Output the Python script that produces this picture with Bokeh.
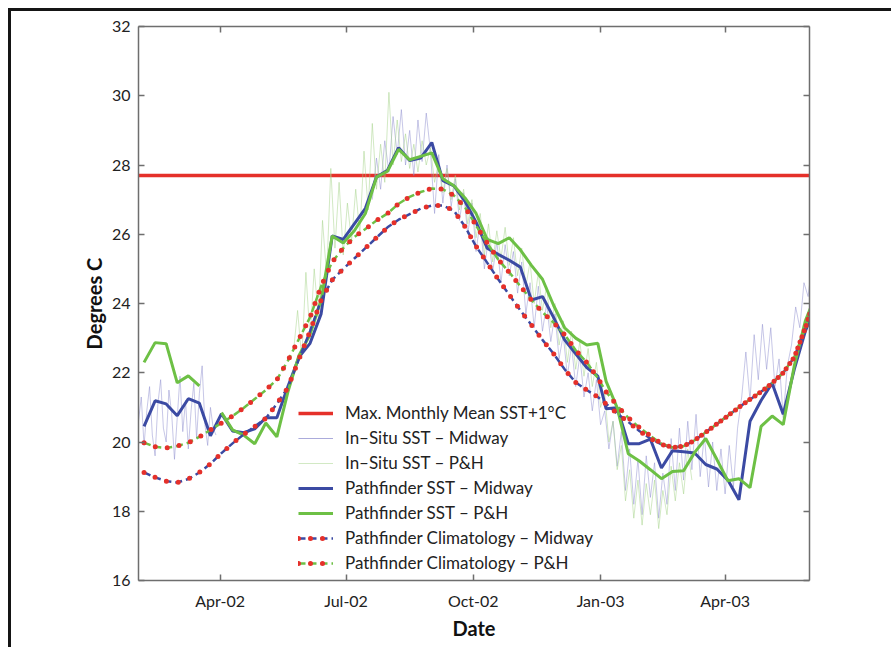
from datetime import datetime
import numpy as np
import pandas as pd
from bokeh.plotting import figure
from bokeh.models import (Range1d, FixedTicker, DatetimeTickFormatter, DatetimeAxis, LinearAxis,
                          Legend, LegendItem, CustomJSTickFormatter, InlineStyleSheet)
from bokeh.embed import file_html
from bokeh.resources import INLINE

# ---------------- data ----------------
pf_dates = ["2002-02-05","2002-02-13","2002-02-21","2002-03-01","2002-03-09","2002-03-17","2002-03-25",
            "2002-04-02","2002-04-10","2002-04-18","2002-04-26","2002-05-04","2002-05-12","2002-05-20",
            "2002-05-28","2002-06-05","2002-06-13","2002-06-21","2002-06-29","2002-07-07","2002-07-15",
            "2002-07-23","2002-07-31","2002-08-08","2002-08-16","2002-08-24","2002-09-01","2002-09-09",
            "2002-09-17","2002-09-25","2002-10-03","2002-10-11","2002-10-19","2002-10-27","2002-11-04",
            "2002-11-12","2002-11-20","2002-11-28","2002-12-06","2002-12-14","2002-12-22","2002-12-30",
            "2003-01-05","2003-01-13","2003-01-21","2003-01-29","2003-02-06","2003-02-14","2003-02-22",
            "2003-03-02","2003-03-10","2003-03-18","2003-03-26","2003-04-03","2003-04-11","2003-04-19",
            "2003-04-27","2003-05-05","2003-05-13","2003-05-21","2003-05-29","2003-06-06"]

pathfinder_midway = [20.45, 21.19, 21.10, 20.76, 21.25, 21.12, 20.18, 20.82, 20.32, 20.27,
                     20.38, 20.70, 20.70, 21.60, 22.45, 22.85, 23.70, 25.95, 25.85, 26.30,
                     26.75, 27.65, 27.85, 28.50, 28.13, 28.20, 28.65, 27.55, 27.40, 26.95,
                     26.35, 25.60, 25.42, 25.25, 25.05, 24.10, 24.20, 23.60, 22.95, 22.55,
                     22.15, 21.90, 20.96, 20.99, 19.95, 19.95, 20.08, 19.25, 19.75, 19.72,
                     19.68, 19.35, 19.22, 18.90, 18.33, 20.60, 21.20, 21.70, 20.80, 22.10,
                     23.20, 24.00]

pathfinder_ph = [22.30, 22.87, 22.84, 21.71, 21.91, 21.62, np.nan, 20.85, 20.35, 20.20,
                 19.95, 20.55, 20.15, 21.45, 22.50, 23.10, 24.10, 25.95, 25.75, 26.10,
                 26.60, 27.65, 27.82, 28.45, 28.15, 28.25, 28.35, 27.60, 27.40, 27.05,
                 26.60, 25.85, 25.73, 25.90, 25.55, 25.10, 24.70, 23.95, 23.30, 23.00,
                 22.80, 22.85, 21.75, 20.99, 19.66, 19.45, 19.20, 18.94, 19.15, 19.17,
                 19.70, 20.10, 19.50, 18.88, 18.94, 18.68, 20.45, 20.75, 20.50, 22.20,
                 23.50, 24.30]

clim_midway = [19.12, 18.98, 18.87, 18.83, 18.93, 19.12, 19.37, 19.68, 19.96, 20.22,
               20.45, 20.68, 21.10, 21.57, 22.40, 23.20, 24.10, 24.68, 25.00, 25.30,
               25.60, 25.90, 26.20, 26.42, 26.58, 26.74, 26.83, 26.83, 26.68, 26.22,
               25.65, 25.18, 24.70, 24.25, 23.80, 23.38, 22.95, 22.55, 22.10, 21.72,
               21.50, 21.30, 21.10, 20.82, 20.58, 20.32, 20.10, 19.93, 19.84, 19.88,
               20.05, 20.28, 20.52, 20.76, 21.00, 21.23, 21.45, 21.70, 22.00, 22.45,
               23.30, 24.30]

clim_ph = [19.98, 19.86, 19.83, 19.88, 19.98, 20.15, 20.35, 20.55, 20.75, 20.98,
           21.24, 21.50, 21.80, 22.35, 22.98, 23.60, 24.50, 25.20, 25.60, 25.92,
           26.15, 26.40, 26.60, 26.88, 27.08, 27.22, 27.32, 27.30, 27.12, 26.78,
           26.25, 25.75, 25.27, 24.90, 24.50, 24.10, 23.75, 23.45, 23.10, 22.65,
           22.30, 21.85, 21.45, 21.05, 20.70, 20.42, 20.18, 19.95, 19.84, 19.88,
           20.05, 20.28, 20.52, 20.76, 21.00, 21.23, 21.45, 21.70, 22.00, 22.45,
           23.30, 24.30]

# in-situ records (read at a 2- or 3-day spacing)
insitu_midway_a_start = "2002-02-01"
insitu_midway_a = [20.6, 21.3, 19.9, 20.9, 21.6, 20.2, 19.6, 21.1, 21.8, 20.4, 20.0, 21.5, 20.8, 19.5,
                   20.7, 21.9, 20.3, 21.2, 19.8, 20.9, 21.7, 20.1, 21.4, 22.2, 20.5, 19.9, 21.0, 20.4, 20.2]
insitu_midway_b_start = "2002-07-20"
insitu_midway_b = [27.0, 28.2, 27.3, 28.7, 27.8, 29.4, 28.3, 29.6, 28.0, 29.0,
                   27.7, 29.3, 28.1, 29.5, 28.4, 26.6, 28.3, 26.9, 28.0, 26.8,
                   27.6, 26.4, 27.2, 26.0, 26.9, 25.5, 26.4, 25.0, 25.9, 24.9,
                   25.8, 24.6, 25.7, 24.8, 25.5, 24.3, 25.2, 23.7, 24.6, 23.3,
                   24.5, 23.2, 24.0, 22.9, 23.7, 22.4, 23.1, 21.9, 22.8, 21.6,
                   22.5, 21.3, 22.0, 20.9, 21.8, 20.5, 20.9, 19.8, 20.6, 19.3,
                   20.3, 18.6, 19.8, 18.2, 19.5, 17.9, 19.6, 18.4, 19.4, 17.8,
                   19.1, 18.2, 20.1, 18.6, 20.4, 18.9, 20.6, 19.2, 20.8, 19.0,
                   20.2, 18.7, 20.0, 18.6, 19.8, 18.5, 19.9, 18.7, 20.4, 21.3,
                   22.6, 21.2, 23.1, 21.8, 23.4, 22.1, 23.3, 21.6, 22.4, 20.7,
                   22.2, 22.8, 23.9, 23.3, 24.6, 24.2, 25.2]
insitu_ph_start = "2002-05-24"
insitu_ph = [22.6, 23.8, 22.4, 24.9, 23.0, 25.0, 23.6, 26.4, 24.8, 27.9,
             25.6, 27.5, 25.4, 26.9, 25.8, 27.3, 26.0, 28.4, 26.7, 29.2,
             27.3, 28.6, 27.5, 30.1, 28.0, 29.3, 28.1, 28.9, 27.9, 28.6,
             27.8, 28.7, 28.0, 28.5, 27.5, 28.1, 27.2, 27.9, 27.0, 27.7,
             26.7, 27.3, 26.3, 27.0, 25.9, 26.6, 25.4, 26.3, 25.2, 26.1,
             25.3, 26.2, 25.1, 25.9, 24.8, 25.6, 24.5, 25.2, 24.0, 24.9,
             23.8, 24.5, 23.3, 24.0, 22.8, 23.5, 22.3, 23.2, 22.1, 22.9,
             21.9, 22.7, 21.6, 22.3, 21.0, 21.4, 20.0, 20.6, 19.2, 19.9,
             18.3, 19.2, 17.8, 18.9, 17.6, 18.8, 17.9, 18.9, 17.5, 18.6,
             17.9, 19.3, 18.3, 19.4, 18.5, 19.8, 18.9]

max_monthly_mean_plus1 = 27.7
threshold_span = ["2002-02-01", "2003-06-01"]

y_ticks = [16, 18, 20, 22, 24, 26, 28, 30, 32]
x_tick_dates = ["2002-04-01", "2002-07-01", "2002-10-01", "2003-01-01", "2003-04-01"]

# ---------------- styles ----------------
BLUE = "#3B4AA3"
GREEN = "#6DC045"
RED = "#E5302A"
LAV = "#8F8FD0"
LGREEN = "#A5D38A"
AXC = "#6E6E6E"
FONT = "Lato"

pf_x = pd.to_datetime(pf_dates)
x_a = pd.date_range(insitu_midway_a_start, periods=len(insitu_midway_a), freq="2D")
x_b = pd.date_range(insitu_midway_b_start, periods=len(insitu_midway_b), freq="3D")
x_ph = pd.date_range(insitu_ph_start, periods=len(insitu_ph), freq="3D")

p = figure(width=891, height=647, x_axis_type="datetime", output_backend="svg", toolbar_location=None,
           x_range=Range1d(datetime(2002, 2, 1), datetime(2003, 6, 1)), y_range=Range1d(16, 32),
           min_border_left=138, min_border_right=82, min_border_top=26, min_border_bottom=67)
p.grid.visible = False
p.outline_line_color = None
p.background_fill_color = "white"
p.border_fill_color = "white"

# outer black frame of the figure panel (left and top edges visible in the reference)
p.stylesheets = [InlineStyleSheet(css="""
:host { position: relative; }
:host::after {
  content: ""; position: absolute; left: 8px; top: 8px; right: 0px; bottom: 0px;
  border-left: 3px solid #151515; border-top: 3px solid #151515;
  pointer-events: none; box-sizing: border-box;
}
""")]

r_red = p.line(pd.to_datetime(threshold_span), [max_monthly_mean_plus1] * 2, color=RED, line_width=3.5)

r_ia = p.line(x_a, insitu_midway_a, color=LAV, line_width=1, line_alpha=0.5)
r_ib = p.line(x_b, insitu_midway_b, color=LAV, line_width=1, line_alpha=0.5)
r_ip = p.line(x_ph, insitu_ph, color=LGREEN, line_width=1, line_alpha=0.5)

r_pm = p.line(pf_x, pathfinder_midway, color=BLUE, line_width=3)
r_pp = p.line(pf_x, pathfinder_ph, color=GREEN, line_width=3)

r_cm1 = p.line(pf_x, clim_midway, color=BLUE, line_width=2.5, line_dash="7 4")
r_cp1 = p.line(pf_x, clim_ph, color=GREEN, line_width=2.5, line_dash="7 4")
r_cm2 = p.line(pf_x, clim_midway, color=RED, line_width=5, line_dash="0 12", line_cap="round")
r_cp2 = p.line(pf_x, clim_ph, color=RED, line_width=5, line_dash="0 12", line_cap="round")

# axes
def style_axis(ax):
    ax.axis_line_color = AXC
    ax.axis_line_width = 1.5
    ax.major_tick_line_color = AXC
    ax.major_tick_line_width = 1.5
    ax.major_tick_in = 6
    ax.major_tick_out = 0
    ax.minor_tick_in = 0
    ax.minor_tick_out = 0
    ax.major_label_text_font = FONT
    ax.major_label_text_font_size = "16px"
    ax.major_label_text_color = "#222222"

x_ms = [pd.Timestamp(d).value // 10**6 for d in x_tick_dates]
fmt = DatetimeTickFormatter(days="%b-%y", months="%b-%y", years="%b-%y")
p.xaxis.ticker = FixedTicker(ticks=x_ms)
p.xaxis.formatter = fmt
p.yaxis.ticker = FixedTicker(ticks=y_ticks)
for ax in p.xaxis + p.yaxis:
    style_axis(ax)
p.xaxis.major_label_standoff = 10
p.yaxis.major_label_standoff = 8
p.xaxis.axis_label = "Date"
p.yaxis.axis_label = "Degrees C"
for ax in p.xaxis + p.yaxis:
    ax.axis_label_text_font = FONT
    ax.axis_label_text_font_style = "bold"
    ax.axis_label_text_font_size = "20px"
    ax.axis_label_text_color = "#111111"
p.xaxis.axis_label_standoff = 3
p.yaxis.axis_label_standoff = 3

empty = CustomJSTickFormatter(code="return ''")
top = DatetimeAxis(ticker=FixedTicker(ticks=x_ms), formatter=empty)
right = LinearAxis(ticker=FixedTicker(ticks=y_ticks), formatter=empty)
for ax in (top, right):
    style_axis(ax)
    ax.major_label_standoff = 0
p.add_layout(top, "above")
p.add_layout(right, "right")

legend = Legend(items=[
    LegendItem(label="Max. Monthly Mean SST+1°C", renderers=[r_red]),
    LegendItem(label="In–Situ SST – Midway", renderers=[r_ia, r_ib]),
    LegendItem(label="In–Situ SST – P&H", renderers=[r_ip]),
    LegendItem(label="Pathfinder SST – Midway", renderers=[r_pm]),
    LegendItem(label="Pathfinder SST – P&H", renderers=[r_pp]),
    LegendItem(label="Pathfinder Climatology – Midway", renderers=[r_cm1, r_cm2]),
    LegendItem(label="Pathfinder Climatology – P&H", renderers=[r_cp1, r_cp2]),
], location=(160, 7), padding=0, margin=0, spacing=4, label_height=20, glyph_height=20,
   glyph_width=35, label_standoff=12, background_fill_alpha=0, border_line_color=None,
   label_text_font=FONT, label_text_font_size="17px", label_text_color="#222222")
p.add_layout(legend)

open("out.html", "w").write(file_html(p, INLINE))
